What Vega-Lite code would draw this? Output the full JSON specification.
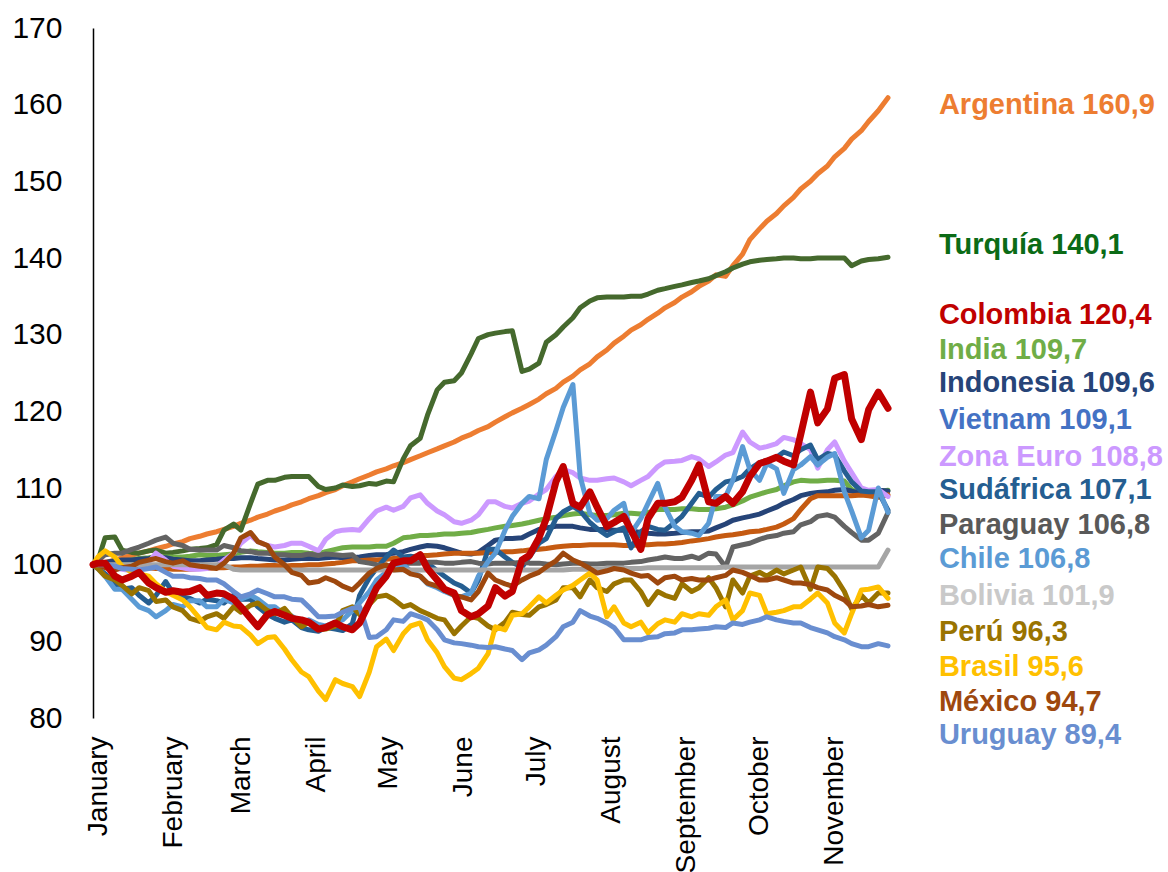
{
  "$schema": "https://vega.github.io/schema/vega-lite/v6.json",
  "width": 795,
  "height": 690,
  "autosize": {"type": "none"},
  "padding": {"left": 93, "top": 28, "right": 280, "bottom": 154},
  "background": "white",
  "config": {"view": {"stroke": null}, "font": "Liberation Sans"},
  "datasets": {
    "series": [
      {"fecha":"2022-01-01","Argentina":100.0,"Turquía":100.0,"India":100.0,"Indonesia":100.0,"Vietnam":100.0,"Zona Euro":100.0,"Sudáfrica":100.0,"Paraguay":100.0,"Chile":100.0,"Bolivia":100.0,"Perú":100.0,"Brasil":100.0,"México":100.0,"Uruguay":100.0,"Colombia":100.0},
      {"fecha":"2022-01-03","Argentina":100.1,"Turquía":100.5,"India":100.1,"Indonesia":100.1,"Vietnam":99.9,"Zona Euro":100.1,"Sudáfrica":99.5,"Paraguay":100.5,"Chile":99.5,"Bolivia":100.0,"Perú":99.5,"Brasil":101.0,"México":100.0,"Uruguay":100.0,"Colombia":100.2},
      {"fecha":"2022-01-06","Argentina":100.3,"Turquía":103.5,"India":100.2,"Indonesia":100.3,"Vietnam":99.9,"Zona Euro":99.7,"Sudáfrica":98.8,"Paraguay":101.3,"Chile":98.5,"Bolivia":100.0,"Perú":98.5,"Brasil":101.8,"México":99.6,"Uruguay":100.0,"Colombia":100.2},
      {"fecha":"2022-01-10","Argentina":100.6,"Turquía":103.6,"India":100.4,"Indonesia":100.5,"Vietnam":99.8,"Zona Euro":99.6,"Sudáfrica":97.5,"Paraguay":101.5,"Chile":96.8,"Bolivia":100.0,"Perú":98.0,"Brasil":101.0,"México":99.3,"Uruguay":99.8,"Colombia":98.5},
      {"fecha":"2022-01-13","Argentina":100.9,"Turquía":101.9,"India":100.5,"Indonesia":100.6,"Vietnam":99.8,"Zona Euro":99.4,"Sudáfrica":96.8,"Paraguay":101.5,"Chile":96.8,"Bolivia":100.0,"Perú":97.3,"Brasil":99.8,"México":99.6,"Uruguay":99.5,"Colombia":98.0},
      {"fecha":"2022-01-17","Argentina":101.2,"Turquía":101.6,"India":100.6,"Indonesia":100.6,"Vietnam":99.7,"Zona Euro":99.2,"Sudáfrica":97.0,"Paraguay":102.0,"Chile":95.5,"Bolivia":100.0,"Perú":96.2,"Brasil":99.0,"México":99.8,"Uruguay":99.4,"Colombia":98.5},
      {"fecha":"2022-01-20","Argentina":101.5,"Turquía":101.5,"India":100.8,"Indonesia":100.7,"Vietnam":99.7,"Zona Euro":99.3,"Sudáfrica":96.0,"Paraguay":102.3,"Chile":94.5,"Bolivia":100.0,"Perú":97.0,"Brasil":98.8,"México":100.3,"Uruguay":99.3,"Colombia":99.0},
      {"fecha":"2022-01-24","Argentina":101.8,"Turquía":101.8,"India":100.9,"Indonesia":100.8,"Vietnam":99.6,"Zona Euro":100.3,"Sudáfrica":95.0,"Paraguay":102.8,"Chile":94.0,"Bolivia":100.0,"Perú":96.6,"Brasil":98.5,"México":100.6,"Uruguay":99.5,"Colombia":97.6},
      {"fecha":"2022-01-27","Argentina":102.1,"Turquía":101.9,"India":101.0,"Indonesia":100.9,"Vietnam":99.5,"Zona Euro":101.5,"Sudáfrica":96.0,"Paraguay":103.2,"Chile":93.2,"Bolivia":100.0,"Perú":95.2,"Brasil":97.5,"México":100.8,"Uruguay":99.7,"Colombia":97.0},
      {"fecha":"2022-01-31","Argentina":102.4,"Turquía":101.5,"India":101.0,"Indonesia":100.9,"Vietnam":99.5,"Zona Euro":100.6,"Sudáfrica":97.8,"Paraguay":103.6,"Chile":94.0,"Bolivia":100.0,"Perú":95.4,"Brasil":96.5,"México":100.4,"Uruguay":99.0,"Colombia":96.4},
      {"fecha":"2022-02-03","Argentina":102.7,"Turquía":101.6,"India":101.0,"Indonesia":100.7,"Vietnam":99.4,"Zona Euro":99.8,"Sudáfrica":96.3,"Paraguay":102.8,"Chile":94.8,"Bolivia":100.0,"Perú":94.5,"Brasil":96.0,"México":100.2,"Uruguay":98.5,"Colombia":96.6},
      {"fecha":"2022-02-07","Argentina":103.0,"Turquía":101.8,"India":101.0,"Indonesia":100.6,"Vietnam":99.4,"Zona Euro":99.6,"Sudáfrica":95.8,"Paraguay":102.5,"Chile":94.5,"Bolivia":100.0,"Perú":94.0,"Brasil":95.4,"México":100.5,"Uruguay":98.5,"Colombia":96.4},
      {"fecha":"2022-02-10","Argentina":103.4,"Turquía":102.0,"India":101.1,"Indonesia":100.5,"Vietnam":99.4,"Zona Euro":99.4,"Sudáfrica":95.6,"Paraguay":102.0,"Chile":95.3,"Bolivia":100.0,"Perú":93.0,"Brasil":94.5,"México":100.0,"Uruguay":98.3,"Colombia":96.5},
      {"fecha":"2022-02-14","Argentina":103.7,"Turquía":102.1,"India":101.3,"Indonesia":100.5,"Vietnam":99.5,"Zona Euro":99.4,"Sudáfrica":95.0,"Paraguay":101.9,"Chile":95.3,"Bolivia":100.0,"Perú":92.6,"Brasil":93.0,"México":99.8,"Uruguay":98.2,"Colombia":97.0},
      {"fecha":"2022-02-17","Argentina":104.0,"Turquía":102.2,"India":101.2,"Indonesia":100.6,"Vietnam":99.5,"Zona Euro":99.5,"Sudáfrica":95.5,"Paraguay":101.9,"Chile":94.5,"Bolivia":100.0,"Perú":93.2,"Brasil":91.8,"México":99.7,"Uruguay":98.0,"Colombia":96.0},
      {"fecha":"2022-02-21","Argentina":104.3,"Turquía":102.6,"India":101.2,"Indonesia":100.7,"Vietnam":99.6,"Zona Euro":99.8,"Sudáfrica":95.3,"Paraguay":101.9,"Chile":94.5,"Bolivia":100.0,"Perú":93.6,"Brasil":91.5,"México":99.5,"Uruguay":98.0,"Colombia":96.3},
      {"fecha":"2022-02-24","Argentina":104.6,"Turquía":104.5,"India":101.3,"Indonesia":100.8,"Vietnam":99.6,"Zona Euro":100.6,"Sudáfrica":95.0,"Paraguay":102.5,"Chile":95.5,"Bolivia":100.0,"Perú":93.0,"Brasil":92.5,"México":100.2,"Uruguay":97.5,"Colombia":96.2},
      {"fecha":"2022-02-28","Argentina":105.0,"Turquía":105.3,"India":101.4,"Indonesia":100.8,"Vietnam":99.7,"Zona Euro":101.5,"Sudáfrica":96.0,"Paraguay":102.2,"Chile":95.0,"Bolivia":99.4,"Perú":94.5,"Brasil":92.0,"México":101.5,"Uruguay":96.5,"Colombia":95.5},
      {"fecha":"2022-03-03","Argentina":105.4,"Turquía":104.5,"India":101.6,"Indonesia":100.9,"Vietnam":99.7,"Zona Euro":102.8,"Sudáfrica":95.5,"Paraguay":101.8,"Chile":95.5,"Bolivia":99.3,"Perú":93.8,"Brasil":91.9,"México":103.5,"Uruguay":95.8,"Colombia":94.5},
      {"fecha":"2022-03-07","Argentina":105.8,"Turquía":108.0,"India":101.8,"Indonesia":100.9,"Vietnam":99.8,"Zona Euro":103.8,"Sudáfrica":95.5,"Paraguay":101.7,"Chile":96.0,"Bolivia":99.3,"Perú":94.7,"Brasil":90.8,"México":104.2,"Uruguay":96.2,"Colombia":93.0},
      {"fecha":"2022-03-10","Argentina":106.2,"Turquía":110.5,"India":101.7,"Indonesia":100.8,"Vietnam":99.8,"Zona Euro":103.0,"Sudáfrica":94.5,"Paraguay":101.5,"Chile":95.5,"Bolivia":99.3,"Perú":95.0,"Brasil":89.7,"México":103.0,"Uruguay":96.7,"Colombia":91.9},
      {"fecha":"2022-03-14","Argentina":106.6,"Turquía":111.0,"India":101.6,"Indonesia":100.7,"Vietnam":99.9,"Zona Euro":102.5,"Sudáfrica":93.5,"Paraguay":101.5,"Chile":94.5,"Bolivia":99.3,"Perú":94.0,"Brasil":90.5,"México":102.5,"Uruguay":96.2,"Colombia":93.5},
      {"fecha":"2022-03-17","Argentina":107.0,"Turquía":111.0,"India":101.5,"Indonesia":100.6,"Vietnam":99.9,"Zona Euro":102.3,"Sudáfrica":93.0,"Paraguay":101.3,"Chile":94.5,"Bolivia":99.3,"Perú":93.6,"Brasil":90.6,"México":101.0,"Uruguay":95.8,"Colombia":93.9},
      {"fecha":"2022-03-21","Argentina":107.4,"Turquía":111.4,"India":101.5,"Indonesia":100.6,"Vietnam":99.8,"Zona Euro":102.5,"Sudáfrica":92.5,"Paraguay":101.3,"Chile":93.5,"Bolivia":99.3,"Perú":94.3,"Brasil":89.0,"México":100.0,"Uruguay":95.8,"Colombia":93.4},
      {"fecha":"2022-03-24","Argentina":107.8,"Turquía":111.5,"India":101.6,"Indonesia":100.7,"Vietnam":99.9,"Zona Euro":102.8,"Sudáfrica":92.8,"Paraguay":101.2,"Chile":93.3,"Bolivia":99.3,"Perú":93.2,"Brasil":87.6,"México":99.0,"Uruguay":95.5,"Colombia":93.0},
      {"fecha":"2022-03-28","Argentina":108.2,"Turquía":111.5,"India":101.6,"Indonesia":100.8,"Vietnam":99.9,"Zona Euro":102.8,"Sudáfrica":91.8,"Paraguay":101.2,"Chile":92.5,"Bolivia":99.3,"Perú":91.9,"Brasil":86.0,"México":98.6,"Uruguay":95.4,"Colombia":92.8},
      {"fecha":"2022-03-31","Argentina":108.6,"Turquía":111.5,"India":101.5,"Indonesia":100.8,"Vietnam":100.0,"Zona Euro":102.4,"Sudáfrica":91.5,"Paraguay":101.4,"Chile":92.8,"Bolivia":99.3,"Perú":92.5,"Brasil":85.4,"México":97.6,"Uruguay":94.5,"Colombia":92.5},
      {"fecha":"2022-04-04","Argentina":109.0,"Turquía":110.2,"India":101.4,"Indonesia":100.8,"Vietnam":100.0,"Zona Euro":101.8,"Sudáfrica":91.3,"Paraguay":101.2,"Chile":92.2,"Bolivia":99.3,"Perú":91.5,"Brasil":83.5,"México":97.8,"Uruguay":93.2,"Colombia":91.6},
      {"fecha":"2022-04-07","Argentina":109.4,"Turquía":109.8,"India":101.7,"Indonesia":100.9,"Vietnam":100.1,"Zona Euro":103.3,"Sudáfrica":91.8,"Paraguay":101.4,"Chile":92.0,"Bolivia":99.3,"Perú":91.6,"Brasil":82.4,"México":98.3,"Uruguay":93.2,"Colombia":91.8},
      {"fecha":"2022-04-11","Argentina":109.8,"Turquía":110.0,"India":102.0,"Indonesia":101.0,"Vietnam":100.2,"Zona Euro":104.3,"Sudáfrica":91.6,"Paraguay":101.3,"Chile":92.5,"Bolivia":99.3,"Perú":92.0,"Brasil":85.0,"México":97.8,"Uruguay":93.3,"Colombia":92.4},
      {"fecha":"2022-04-14","Argentina":110.3,"Turquía":110.4,"India":102.2,"Indonesia":100.9,"Vietnam":100.3,"Zona Euro":104.5,"Sudáfrica":91.4,"Paraguay":101.2,"Chile":92.8,"Bolivia":99.3,"Perú":94.0,"Brasil":84.5,"México":97.2,"Uruguay":93.8,"Colombia":91.9},
      {"fecha":"2022-04-18","Argentina":110.8,"Turquía":110.2,"India":102.3,"Indonesia":100.9,"Vietnam":100.5,"Zona Euro":104.6,"Sudáfrica":92.3,"Paraguay":101.3,"Chile":94.0,"Bolivia":99.3,"Perú":94.5,"Brasil":84.1,"México":96.7,"Uruguay":94.3,"Colombia":91.5},
      {"fecha":"2022-04-21","Argentina":111.2,"Turquía":110.3,"India":102.3,"Indonesia":101.0,"Vietnam":100.5,"Zona Euro":104.5,"Sudáfrica":96.0,"Paraguay":100.4,"Chile":95.0,"Bolivia":99.3,"Perú":93.5,"Brasil":82.8,"México":97.6,"Uruguay":94.5,"Colombia":92.4},
      {"fecha":"2022-04-25","Argentina":111.7,"Turquía":110.6,"India":102.3,"Indonesia":101.2,"Vietnam":100.6,"Zona Euro":106.0,"Sudáfrica":98.3,"Paraguay":100.2,"Chile":96.5,"Bolivia":99.3,"Perú":94.8,"Brasil":86.0,"México":98.9,"Uruguay":90.5,"Colombia":95.0},
      {"fecha":"2022-04-28","Argentina":112.1,"Turquía":110.5,"India":102.4,"Indonesia":101.3,"Vietnam":100.6,"Zona Euro":107.0,"Sudáfrica":99.5,"Paraguay":100.0,"Chile":98.0,"Bolivia":99.3,"Perú":95.8,"Brasil":89.3,"México":99.5,"Uruguay":90.6,"Colombia":97.0},
      {"fecha":"2022-05-02","Argentina":112.5,"Turquía":110.9,"India":102.4,"Indonesia":101.3,"Vietnam":100.7,"Zona Euro":107.5,"Sudáfrica":101.0,"Paraguay":99.8,"Chile":99.0,"Bolivia":99.3,"Perú":96.0,"Brasil":90.3,"México":100.0,"Uruguay":91.5,"Colombia":98.5},
      {"fecha":"2022-05-05","Argentina":112.9,"Turquía":110.8,"India":102.8,"Indonesia":101.5,"Vietnam":100.8,"Zona Euro":107.1,"Sudáfrica":101.9,"Paraguay":100.0,"Chile":99.8,"Bolivia":99.3,"Perú":95.5,"Brasil":88.8,"México":99.3,"Uruguay":92.8,"Colombia":100.2},
      {"fecha":"2022-05-09","Argentina":113.3,"Turquía":113.8,"India":103.5,"Indonesia":101.7,"Vietnam":100.9,"Zona Euro":107.6,"Sudáfrica":101.0,"Paraguay":100.1,"Chile":100.0,"Bolivia":99.3,"Perú":94.5,"Brasil":91.0,"México":99.4,"Uruguay":92.6,"Colombia":100.5},
      {"fecha":"2022-05-12","Argentina":113.7,"Turquía":115.5,"India":103.6,"Indonesia":102.0,"Vietnam":101.0,"Zona Euro":108.7,"Sudáfrica":101.1,"Paraguay":100.2,"Chile":99.2,"Bolivia":99.3,"Perú":94.8,"Brasil":92.0,"México":98.8,"Uruguay":93.6,"Colombia":100.5},
      {"fecha":"2022-05-16","Argentina":114.2,"Turquía":116.5,"India":103.8,"Indonesia":102.3,"Vietnam":101.2,"Zona Euro":109.1,"Sudáfrica":100.8,"Paraguay":100.2,"Chile":98.5,"Bolivia":99.3,"Perú":94.0,"Brasil":92.4,"México":98.5,"Uruguay":93.2,"Colombia":101.3},
      {"fecha":"2022-05-19","Argentina":114.6,"Turquía":119.5,"India":103.8,"Indonesia":102.5,"Vietnam":101.2,"Zona Euro":108.0,"Sudáfrica":100.2,"Paraguay":100.3,"Chile":97.5,"Bolivia":99.3,"Perú":93.6,"Brasil":90.2,"México":97.6,"Uruguay":92.8,"Colombia":99.5},
      {"fecha":"2022-05-23","Argentina":115.1,"Turquía":122.8,"India":103.9,"Indonesia":102.4,"Vietnam":101.3,"Zona Euro":107.0,"Sudáfrica":99.2,"Paraguay":100.3,"Chile":97.0,"Bolivia":99.3,"Perú":93.0,"Brasil":88.5,"México":97.2,"Uruguay":91.5,"Colombia":98.0},
      {"fecha":"2022-05-26","Argentina":115.5,"Turquía":123.8,"India":104.0,"Indonesia":102.2,"Vietnam":101.4,"Zona Euro":106.5,"Sudáfrica":98.5,"Paraguay":100.2,"Chile":96.5,"Bolivia":99.3,"Perú":92.8,"Brasil":86.7,"México":96.7,"Uruguay":90.2,"Colombia":96.8},
      {"fecha":"2022-05-30","Argentina":116.0,"Turquía":124.0,"India":104.0,"Indonesia":101.8,"Vietnam":101.5,"Zona Euro":105.6,"Sudáfrica":97.6,"Paraguay":100.2,"Chile":96.0,"Bolivia":99.3,"Perú":91.0,"Brasil":85.2,"México":96.0,"Uruguay":89.8,"Colombia":96.3},
      {"fecha":"2022-06-02","Argentina":116.5,"Turquía":125.0,"India":104.1,"Indonesia":101.5,"Vietnam":101.5,"Zona Euro":105.4,"Sudáfrica":97.2,"Paraguay":100.3,"Chile":95.8,"Bolivia":99.3,"Perú":92.0,"Brasil":85.0,"México":95.8,"Uruguay":89.7,"Colombia":94.0},
      {"fecha":"2022-06-06","Argentina":117.0,"Turquía":127.5,"India":104.2,"Indonesia":101.4,"Vietnam":101.5,"Zona Euro":105.8,"Sudáfrica":96.3,"Paraguay":100.4,"Chile":96.3,"Bolivia":99.3,"Perú":93.2,"Brasil":85.8,"México":95.4,"Uruguay":89.5,"Colombia":93.2},
      {"fecha":"2022-06-09","Argentina":117.5,"Turquía":129.5,"India":104.4,"Indonesia":101.6,"Vietnam":101.5,"Zona Euro":106.5,"Sudáfrica":98.0,"Paraguay":100.2,"Chile":98.5,"Bolivia":99.3,"Perú":93.0,"Brasil":86.5,"México":96.5,"Uruguay":89.3,"Colombia":93.6},
      {"fecha":"2022-06-13","Argentina":118.0,"Turquía":130.0,"India":104.6,"Indonesia":102.5,"Vietnam":101.6,"Zona Euro":108.2,"Sudáfrica":102.0,"Paraguay":100.1,"Chile":100.4,"Bolivia":99.3,"Perú":92.0,"Brasil":88.4,"México":98.9,"Uruguay":89.2,"Colombia":94.6},
      {"fecha":"2022-06-16","Argentina":118.6,"Turquía":130.2,"India":104.8,"Indonesia":103.2,"Vietnam":101.6,"Zona Euro":108.2,"Sudáfrica":102.0,"Paraguay":100.2,"Chile":101.5,"Bolivia":99.3,"Perú":91.5,"Brasil":91.9,"México":98.0,"Uruguay":89.3,"Colombia":97.0},
      {"fecha":"2022-06-20","Argentina":119.3,"Turquía":130.4,"India":105.0,"Indonesia":103.4,"Vietnam":101.7,"Zona Euro":107.6,"Sudáfrica":101.0,"Paraguay":100.2,"Chile":104.5,"Bolivia":99.3,"Perú":92.5,"Brasil":91.5,"México":97.5,"Uruguay":89.0,"Colombia":95.9},
      {"fecha":"2022-06-23","Argentina":119.8,"Turquía":130.5,"India":105.1,"Indonesia":103.4,"Vietnam":101.7,"Zona Euro":107.4,"Sudáfrica":100.3,"Paraguay":100.2,"Chile":106.3,"Bolivia":99.3,"Perú":93.8,"Brasil":93.4,"México":97.2,"Uruguay":88.8,"Colombia":96.5},
      {"fecha":"2022-06-27","Argentina":120.4,"Turquía":125.2,"India":105.3,"Indonesia":103.5,"Vietnam":101.8,"Zona Euro":108.0,"Sudáfrica":99.7,"Paraguay":100.3,"Chile":108.0,"Bolivia":99.3,"Perú":93.5,"Brasil":93.6,"México":98.0,"Uruguay":87.6,"Colombia":100.6},
      {"fecha":"2022-06-30","Argentina":120.9,"Turquía":125.5,"India":105.5,"Indonesia":104.0,"Vietnam":101.9,"Zona Euro":108.3,"Sudáfrica":101.0,"Paraguay":100.2,"Chile":108.9,"Bolivia":99.3,"Perú":93.4,"Brasil":94.5,"México":98.5,"Uruguay":88.5,"Colombia":101.2},
      {"fecha":"2022-07-04","Argentina":121.6,"Turquía":126.3,"India":105.8,"Indonesia":104.6,"Vietnam":102.0,"Zona Euro":109.2,"Sudáfrica":102.8,"Paraguay":100.2,"Chile":108.6,"Bolivia":99.3,"Perú":94.5,"Brasil":95.8,"México":99.0,"Uruguay":88.9,"Colombia":103.5},
      {"fecha":"2022-07-07","Argentina":122.3,"Turquía":129.0,"India":106.0,"Indonesia":104.8,"Vietnam":102.1,"Zona Euro":109.8,"Sudáfrica":103.4,"Paraguay":100.1,"Chile":113.7,"Bolivia":99.3,"Perú":94.8,"Brasil":95.0,"México":99.7,"Uruguay":89.5,"Colombia":106.0},
      {"fecha":"2022-07-11","Argentina":123.0,"Turquía":130.0,"India":106.2,"Indonesia":105.0,"Vietnam":102.3,"Zona Euro":111.5,"Sudáfrica":106.0,"Paraguay":100.0,"Chile":117.5,"Bolivia":99.3,"Perú":95.4,"Brasil":96.0,"México":100.5,"Uruguay":90.6,"Colombia":110.8},
      {"fecha":"2022-07-14","Argentina":123.8,"Turquía":131.0,"India":106.4,"Indonesia":105.0,"Vietnam":102.4,"Zona Euro":112.4,"Sudáfrica":106.9,"Paraguay":100.1,"Chile":120.5,"Bolivia":99.3,"Perú":97.0,"Brasil":96.7,"México":101.5,"Uruguay":91.9,"Colombia":112.8},
      {"fecha":"2022-07-18","Argentina":124.6,"Turquía":132.2,"India":106.6,"Indonesia":105.0,"Vietnam":102.5,"Zona Euro":112.0,"Sudáfrica":107.6,"Paraguay":100.2,"Chile":123.5,"Bolivia":99.4,"Perú":97.0,"Brasil":97.3,"México":100.6,"Uruguay":92.5,"Colombia":108.0},
      {"fecha":"2022-07-21","Argentina":125.4,"Turquía":133.5,"India":106.7,"Indonesia":104.8,"Vietnam":102.5,"Zona Euro":111.3,"Sudáfrica":107.0,"Paraguay":100.2,"Chile":111.5,"Bolivia":99.4,"Perú":95.8,"Brasil":98.0,"México":100.2,"Uruguay":94.0,"Colombia":107.5},
      {"fecha":"2022-07-25","Argentina":126.2,"Turquía":134.4,"India":106.5,"Indonesia":104.6,"Vietnam":102.6,"Zona Euro":111.0,"Sudáfrica":105.5,"Paraguay":100.1,"Chile":106.7,"Bolivia":99.4,"Perú":98.0,"Brasil":98.9,"México":99.5,"Uruguay":93.3,"Colombia":109.5},
      {"fecha":"2022-07-28","Argentina":127.1,"Turquía":134.8,"India":106.4,"Indonesia":104.6,"Vietnam":102.6,"Zona Euro":111.0,"Sudáfrica":104.7,"Paraguay":100.1,"Chile":105.8,"Bolivia":99.4,"Perú":97.0,"Brasil":98.0,"México":98.9,"Uruguay":93.0,"Colombia":107.5},
      {"fecha":"2022-08-01","Argentina":128.0,"Turquía":134.9,"India":106.4,"Indonesia":104.6,"Vietnam":102.6,"Zona Euro":111.2,"Sudáfrica":103.8,"Paraguay":100.2,"Chile":106.0,"Bolivia":99.5,"Perú":96.5,"Brasil":93.2,"México":99.2,"Uruguay":92.4,"Colombia":105.0},
      {"fecha":"2022-08-04","Argentina":128.9,"Turquía":134.9,"India":106.5,"Indonesia":104.5,"Vietnam":102.6,"Zona Euro":111.3,"Sudáfrica":104.3,"Paraguay":100.2,"Chile":107.1,"Bolivia":99.5,"Perú":97.5,"Brasil":94.5,"México":99.5,"Uruguay":91.8,"Colombia":105.5},
      {"fecha":"2022-08-08","Argentina":129.8,"Turquía":134.9,"India":106.7,"Indonesia":104.5,"Vietnam":102.5,"Zona Euro":110.8,"Sudáfrica":104.8,"Paraguay":100.2,"Chile":108.0,"Bolivia":99.5,"Perú":98.0,"Brasil":92.4,"México":99.3,"Uruguay":90.2,"Colombia":106.3},
      {"fecha":"2022-08-11","Argentina":130.6,"Turquía":135.0,"India":106.7,"Indonesia":104.4,"Vietnam":102.5,"Zona Euro":110.3,"Sudáfrica":102.2,"Paraguay":100.3,"Chile":104.1,"Bolivia":99.5,"Perú":98.0,"Brasil":91.9,"México":98.9,"Uruguay":90.2,"Colombia":104.5},
      {"fecha":"2022-08-15","Argentina":131.3,"Turquía":135.0,"India":106.6,"Indonesia":104.2,"Vietnam":102.6,"Zona Euro":111.0,"Sudáfrica":104.3,"Paraguay":100.4,"Chile":106.0,"Bolivia":99.5,"Perú":96.5,"Brasil":92.5,"México":98.5,"Uruguay":90.2,"Colombia":102.0},
      {"fecha":"2022-08-18","Argentina":132.0,"Turquía":135.3,"India":106.8,"Indonesia":104.1,"Vietnam":102.6,"Zona Euro":111.5,"Sudáfrica":105.0,"Paraguay":100.6,"Chile":108.0,"Bolivia":99.6,"Perú":94.8,"Brasil":91.1,"México":98.6,"Uruguay":90.5,"Colombia":106.0},
      {"fecha":"2022-08-22","Argentina":132.8,"Turquía":135.8,"India":107.2,"Indonesia":104.0,"Vietnam":102.7,"Zona Euro":112.8,"Sudáfrica":104.6,"Paraguay":100.8,"Chile":110.6,"Bolivia":99.6,"Perú":96.5,"Brasil":92.3,"México":97.6,"Uruguay":90.6,"Colombia":108.0},
      {"fecha":"2022-08-25","Argentina":133.5,"Turquía":136.0,"India":107.2,"Indonesia":104.0,"Vietnam":102.7,"Zona Euro":113.4,"Sudáfrica":104.5,"Paraguay":101.0,"Chile":107.5,"Bolivia":99.6,"Perú":96.0,"Brasil":92.8,"México":98.3,"Uruguay":91.0,"Colombia":108.0},
      {"fecha":"2022-08-29","Argentina":134.2,"Turquía":136.3,"India":107.2,"Indonesia":104.1,"Vietnam":102.8,"Zona Euro":113.5,"Sudáfrica":105.5,"Paraguay":100.8,"Chile":105.0,"Bolivia":99.6,"Perú":95.6,"Brasil":92.5,"México":98.5,"Uruguay":91.1,"Colombia":108.2},
      {"fecha":"2022-09-01","Argentina":134.9,"Turquía":136.5,"India":107.3,"Indonesia":104.2,"Vietnam":102.9,"Zona Euro":113.6,"Sudáfrica":106.3,"Paraguay":100.8,"Chile":104.3,"Bolivia":99.6,"Perú":97.5,"Brasil":93.6,"México":98.0,"Uruguay":91.5,"Colombia":108.8},
      {"fecha":"2022-09-05","Argentina":135.6,"Turquía":136.8,"India":107.3,"Indonesia":104.3,"Vietnam":103.1,"Zona Euro":114.1,"Sudáfrica":108.0,"Paraguay":101.1,"Chile":104.1,"Bolivia":99.6,"Perú":96.5,"Brasil":93.2,"México":98.2,"Uruguay":91.5,"Colombia":111.0},
      {"fecha":"2022-09-08","Argentina":136.3,"Turquía":137.0,"India":107.2,"Indonesia":104.3,"Vietnam":103.2,"Zona Euro":113.8,"Sudáfrica":109.3,"Paraguay":100.8,"Chile":103.8,"Bolivia":99.6,"Perú":97.0,"Brasil":93.6,"México":98.0,"Uruguay":91.6,"Colombia":113.0},
      {"fecha":"2022-09-12","Argentina":137.0,"Turquía":137.3,"India":107.2,"Indonesia":104.4,"Vietnam":103.4,"Zona Euro":112.8,"Sudáfrica":108.8,"Paraguay":101.5,"Chile":105.4,"Bolivia":99.6,"Perú":98.3,"Brasil":93.4,"México":98.0,"Uruguay":91.7,"Colombia":108.2},
      {"fecha":"2022-09-15","Argentina":137.8,"Turquía":137.7,"India":107.3,"Indonesia":104.8,"Vietnam":103.6,"Zona Euro":113.4,"Sudáfrica":109.8,"Paraguay":101.4,"Chile":108.9,"Bolivia":99.6,"Perú":97.0,"Brasil":94.5,"México":98.3,"Uruguay":91.9,"Colombia":108.0},
      {"fecha":"2022-09-19","Argentina":137.6,"Turquía":138.2,"India":107.5,"Indonesia":105.3,"Vietnam":103.8,"Zona Euro":114.3,"Sudáfrica":110.8,"Paraguay":99.7,"Chile":108.9,"Bolivia":99.7,"Perú":94.5,"Brasil":95.4,"México":98.6,"Uruguay":91.8,"Colombia":108.9},
      {"fecha":"2022-09-22","Argentina":139.0,"Turquía":138.7,"India":107.8,"Indonesia":105.8,"Vietnam":103.9,"Zona Euro":114.6,"Sudáfrica":111.0,"Paraguay":102.3,"Chile":111.0,"Bolivia":99.7,"Perú":98.0,"Brasil":92.8,"México":99.3,"Uruguay":92.4,"Colombia":108.0},
      {"fecha":"2022-09-26","Argentina":140.5,"Turquía":139.2,"India":108.3,"Indonesia":106.1,"Vietnam":104.1,"Zona Euro":117.3,"Sudáfrica":111.5,"Paraguay":102.6,"Chile":115.4,"Bolivia":99.7,"Perú":96.3,"Brasil":94.0,"México":99.0,"Uruguay":92.2,"Colombia":109.5},
      {"fecha":"2022-09-29","Argentina":142.4,"Turquía":139.5,"India":108.8,"Indonesia":106.3,"Vietnam":104.3,"Zona Euro":116.0,"Sudáfrica":112.5,"Paraguay":102.8,"Chile":112.4,"Bolivia":99.7,"Perú":98.5,"Brasil":96.3,"México":98.6,"Uruguay":92.5,"Colombia":111.5},
      {"fecha":"2022-10-03","Argentina":143.8,"Turquía":139.7,"India":109.2,"Indonesia":106.6,"Vietnam":104.4,"Zona Euro":115.2,"Sudáfrica":113.3,"Paraguay":103.3,"Chile":111.0,"Bolivia":99.7,"Perú":99.0,"Brasil":96.0,"México":98.0,"Uruguay":92.8,"Colombia":113.2},
      {"fecha":"2022-10-06","Argentina":144.8,"Turquía":139.8,"India":109.5,"Indonesia":107.0,"Vietnam":104.6,"Zona Euro":115.4,"Sudáfrica":113.6,"Paraguay":103.6,"Chile":113.2,"Bolivia":99.7,"Perú":98.5,"Brasil":93.6,"México":98.0,"Uruguay":93.2,"Colombia":113.5},
      {"fecha":"2022-10-10","Argentina":145.8,"Turquía":139.9,"India":109.8,"Indonesia":107.5,"Vietnam":104.9,"Zona Euro":115.8,"Sudáfrica":114.0,"Paraguay":103.8,"Chile":112.5,"Bolivia":99.7,"Perú":99.3,"Brasil":93.8,"México":98.3,"Uruguay":92.8,"Colombia":114.0},
      {"fecha":"2022-10-13","Argentina":146.8,"Turquía":140.0,"India":110.3,"Indonesia":108.0,"Vietnam":105.3,"Zona Euro":116.6,"Sudáfrica":114.7,"Paraguay":104.1,"Chile":109.3,"Bolivia":99.7,"Perú":98.8,"Brasil":94.0,"México":98.0,"Uruguay":92.6,"Colombia":113.5},
      {"fecha":"2022-10-17","Argentina":147.9,"Turquía":140.0,"India":110.8,"Indonesia":108.5,"Vietnam":106.0,"Zona Euro":116.3,"Sudáfrica":114.2,"Paraguay":104.3,"Chile":112.4,"Bolivia":99.7,"Perú":99.3,"Brasil":94.5,"México":97.6,"Uruguay":92.4,"Colombia":113.0},
      {"fecha":"2022-10-20","Argentina":149.0,"Turquía":139.9,"India":111.0,"Indonesia":109.0,"Vietnam":107.2,"Zona Euro":115.8,"Sudáfrica":115.0,"Paraguay":105.2,"Chile":113.0,"Bolivia":99.7,"Perú":99.7,"Brasil":94.5,"México":97.6,"Uruguay":92.4,"Colombia":117.0},
      {"fecha":"2022-10-24","Argentina":150.0,"Turquía":139.9,"India":110.9,"Indonesia":109.3,"Vietnam":108.6,"Zona Euro":115.0,"Sudáfrica":115.6,"Paraguay":105.6,"Chile":114.1,"Bolivia":99.7,"Perú":96.8,"Brasil":95.5,"México":97.4,"Uruguay":91.8,"Colombia":122.5},
      {"fecha":"2022-10-27","Argentina":151.0,"Turquía":140.0,"India":110.9,"Indonesia":109.4,"Vietnam":109.0,"Zona Euro":112.6,"Sudáfrica":113.7,"Paraguay":106.3,"Chile":113.0,"Bolivia":99.7,"Perú":99.7,"Brasil":96.3,"México":97.0,"Uruguay":91.5,"Colombia":118.5},
      {"fecha":"2022-10-31","Argentina":152.0,"Turquía":140.0,"India":111.0,"Indonesia":109.5,"Vietnam":109.0,"Zona Euro":115.0,"Sudáfrica":114.5,"Paraguay":106.5,"Chile":114.0,"Bolivia":99.7,"Perú":99.5,"Brasil":95.0,"México":96.7,"Uruguay":91.1,"Colombia":120.3},
      {"fecha":"2022-11-03","Argentina":153.2,"Turquía":140.0,"India":111.0,"Indonesia":109.7,"Vietnam":109.0,"Zona Euro":116.0,"Sudáfrica":114.3,"Paraguay":106.2,"Chile":114.5,"Bolivia":99.7,"Perú":98.5,"Brasil":92.4,"México":96.0,"Uruguay":90.6,"Colombia":124.3},
      {"fecha":"2022-11-07","Argentina":154.3,"Turquía":140.0,"India":110.9,"Indonesia":109.8,"Vietnam":109.0,"Zona Euro":113.5,"Sudáfrica":112.2,"Paraguay":105.0,"Chile":109.5,"Bolivia":99.7,"Perú":96.5,"Brasil":91.1,"México":95.4,"Uruguay":90.2,"Colombia":124.8},
      {"fecha":"2022-11-10","Argentina":155.5,"Turquía":139.0,"India":109.8,"Indonesia":109.6,"Vietnam":109.0,"Zona Euro":112.0,"Sudáfrica":110.8,"Paraguay":104.2,"Chile":107.0,"Bolivia":99.7,"Perú":94.2,"Brasil":93.6,"México":94.5,"Uruguay":89.7,"Colombia":119.0},
      {"fecha":"2022-11-14","Argentina":156.6,"Turquía":139.6,"India":109.2,"Indonesia":109.3,"Vietnam":109.1,"Zona Euro":110.0,"Sudáfrica":109.6,"Paraguay":103.2,"Chile":103.5,"Bolivia":99.7,"Perú":96.0,"Brasil":96.7,"México":94.6,"Uruguay":89.3,"Colombia":116.3},
      {"fecha":"2022-11-17","Argentina":157.8,"Turquía":139.8,"India":109.3,"Indonesia":109.5,"Vietnam":109.0,"Zona Euro":109.7,"Sudáfrica":109.5,"Paraguay":103.2,"Chile":104.5,"Bolivia":99.7,"Perú":95.0,"Brasil":96.8,"México":94.8,"Uruguay":89.3,"Colombia":120.2},
      {"fecha":"2022-11-21","Argentina":159.2,"Turquía":139.9,"India":109.5,"Indonesia":109.7,"Vietnam":108.8,"Zona Euro":109.8,"Sudáfrica":109.5,"Paraguay":104.1,"Chile":110.0,"Bolivia":99.7,"Perú":96.3,"Brasil":97.1,"México":94.5,"Uruguay":89.7,"Colombia":122.5},
      {"fecha":"2022-11-25","Argentina":160.9,"Turquía":140.1,"India":109.7,"Indonesia":109.6,"Vietnam":109.1,"Zona Euro":108.9,"Sudáfrica":107.1,"Paraguay":106.8,"Chile":106.8,"Bolivia":101.9,"Perú":96.3,"Brasil":95.6,"México":94.7,"Uruguay":89.4,"Colombia":120.4}
    ],
    "labels": [
      {"pais":"Argentina","txt":"Argentina 160,9","ly":159.96},
      {"pais":"Turquía","txt":"Turquía 140,1","ly":141.7},
      {"pais":"Colombia","txt":"Colombia 120,4","ly":132.57},
      {"pais":"India","txt":"India 109,7","ly":128.0},
      {"pais":"Indonesia","txt":"Indonesia 109,6","ly":123.7},
      {"pais":"Vietnam","txt":"Vietnam 109,1","ly":118.87},
      {"pais":"Zona Euro","txt":"Zona Euro 108,8","ly":114.04},
      {"pais":"Sudáfrica","txt":"Sudáfrica 107,1","ly":109.74},
      {"pais":"Paraguay","txt":"Paraguay 106,8","ly":105.17},
      {"pais":"Chile","txt":"Chile 106,8","ly":100.74},
      {"pais":"Bolivia","txt":"Bolivia 101,9","ly":95.91},
      {"pais":"Perú","txt":"Perú 96,3","ly":91.22},
      {"pais":"Brasil","txt":"Brasil 95,6","ly":86.65},
      {"pais":"México","txt":"México 94,7","ly":82.04},
      {"pais":"Uruguay","txt":"Uruguay 89,4","ly":77.78}
    ]
  },
  "layer": [
    {
      "mark": {"type": "rule", "color": "black", "strokeWidth": 1.5},
      "encoding": {
        "y": {"datum": 100, "type": "quantitative"}
      }
    },
    {
      "data": {"name": "series"},
      "transform": [
        {"fold": ["Argentina","Turquía","India","Indonesia","Vietnam","Zona Euro","Sudáfrica","Paraguay","Chile","Bolivia","Perú","Brasil","México","Uruguay","Colombia"], "as": ["pais", "valor"]}
      ],
      "mark": {"type": "line", "strokeJoin": "round", "strokeCap": "round", "interpolate": "linear"},
      "encoding": {
        "x": {
          "field": "fecha",
          "type": "temporal",
          "scale": {"type": "utc", "domain": [{"year": 2022, "month": 1, "date": 1, "utc": true}, {"year": 2022, "month": 11, "date": 25, "utc": true}]},
          "axis": {
            "values": [
              {"year": 2022, "month": 1, "date": 1, "utc": true},
              {"year": 2022, "month": 2, "date": 1, "utc": true},
              {"year": 2022, "month": 3, "date": 1, "utc": true},
              {"year": 2022, "month": 4, "date": 1, "utc": true},
              {"year": 2022, "month": 5, "date": 1, "utc": true},
              {"year": 2022, "month": 6, "date": 1, "utc": true},
              {"year": 2022, "month": 7, "date": 1, "utc": true},
              {"year": 2022, "month": 8, "date": 1, "utc": true},
              {"year": 2022, "month": 9, "date": 1, "utc": true},
              {"year": 2022, "month": 10, "date": 1, "utc": true},
              {"year": 2022, "month": 11, "date": 1, "utc": true}
            ],
            "labelExpr": "utcFormat(datum.value, '%B')",
            "labelAngle": -90,
            "labelFontSize": 28,
            "labelColor": "black",
            "labelPadding": 18,
            "labelOffset": 5,
            "labelFlush": false,
            "labelOverlap": false,
            "ticks": false,
            "domain": false,
            "grid": false,
            "title": null
          }
        },
        "y": {
          "field": "valor",
          "type": "quantitative",
          "scale": {"domain": [80, 170], "nice": false, "zero": false},
          "axis": {
            "values": [80, 90, 100, 110, 120, 130, 140, 150, 160, 170],
            "labelFontSize": 30,
            "labelColor": "black",
            "labelPadding": 31,
            "ticks": false,
            "domain": true,
            "domainColor": "black",
            "domainWidth": 1.5,
            "grid": false,
            "title": null
          }
        },
        "color": {
          "field": "pais",
          "type": "nominal",
          "scale": {
            "domain": ["Argentina","Turquía","India","Indonesia","Vietnam","Zona Euro","Sudáfrica","Paraguay","Chile","Bolivia","Perú","Brasil","México","Uruguay","Colombia"],
            "range": ["#ED7D31","#45692D","#70AD47","#264478","#C55A11","#CC99FF","#255E91","#636363","#5B9BD5","#A5A5A5","#997300","#FFC000","#9E480E","#698ED0","#C00000"]
          },
          "legend": null
        },
        "strokeWidth": {"condition": {"test": "datum.pais === 'Colombia'", "value": 7}, "value": 5}
      }
    },
    {
      "data": {"name": "labels"},
      "mark": {"type": "text", "align": "left", "baseline": "middle", "fontWeight": "bold", "fontSize": 29},
      "encoding": {
        "x": {"datum": {"year": 2022, "month": 12, "date": 16, "utc": true}, "type": "temporal", "scale": {"type": "utc"}},
        "y": {"field": "ly", "type": "quantitative"},
        "text": {"field": "txt"},
        "color": {
          "field": "pais",
          "type": "nominal",
          "scale": {
            "domain": ["Argentina","Turquía","Colombia","India","Indonesia","Vietnam","Zona Euro","Sudáfrica","Paraguay","Chile","Bolivia","Perú","Brasil","México","Uruguay"],
            "range": ["#ED7D31","#0B6B16","#C00000","#70AD47","#264478","#4472C4","#CC99FF","#255E91","#595959","#5B9BD5","#C9C9C9","#997300","#FFC000","#9E480E","#698ED0"]
          },
          "legend": null
        }
      }
    }
  ],
  "resolve": {"scale": {"color": "independent"}}
}
